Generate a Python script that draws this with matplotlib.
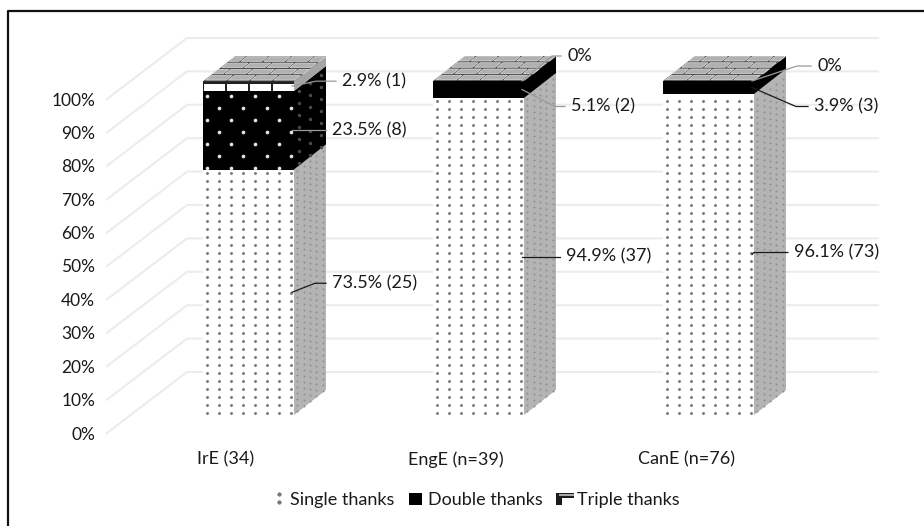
import matplotlib
matplotlib.use("Agg")
import matplotlib.pyplot as plt
from matplotlib.lines import Line2D
from matplotlib.patches import Polygon, Rectangle
from matplotlib.legend_handler import HandlerBase

plt.rcParams["font.family"] = ["Lato", "DejaVu Sans"]
plt.rcParams["font.size"] = 13

categories = ["IrE (34)", "EngE (n=39)", "CanE (n=76)"]
series_names = ["Single thanks", "Double thanks", "Triple thanks"]
single_pct = [73.5, 94.9, 96.1]
double_pct = [23.5, 5.1, 3.9]
triple_pct = [2.9, 0, 0]
single_n = [25, 37, 73]
double_n = [8, 2, 3]
triple_n = [1, 0, 0]
y_ticks = list(range(0, 101, 10))

W, H = 924, 526
PX_X = 230.0       # pixels per category
PX_Y = 3.34        # pixels per percentage point
FIRST_TICK = 226
fig = plt.figure(figsize=(W / 100, H / 100), dpi=100, facecolor="white")
ax_left, ax_right, ax_top, ax_bottom = 107, 878, 99, 433
ax = fig.add_axes([ax_left / W, 1 - ax_bottom / H, (ax_right - ax_left) / W, (ax_bottom - ax_top) / H])
ax.set_xlim((ax_left - FIRST_TICK) / PX_X, (ax_right - FIRST_TICK) / PX_X)
ax.set_ylim(0, 100)
for s in ax.spines.values():
    s.set_visible(False)
ax.set_facecolor("none")
ax.set_yticks(y_ticks, [f"{v}%" for v in y_ticks])
ax.set_xticks(range(len(categories)), categories)
ax.tick_params(axis="both", length=0, colors="#1a1a1a")
ax.tick_params(axis="y", pad=8.6, labelsize=12.5)
ax.tick_params(axis="x", pad=13, labelsize=13)


def ux(px):
    return px / PX_X


def uy(px):
    return px / PX_Y


# Perspective offsets of the chart box
WALL_DX, WALL_DY = ux(80), uy(61)
BAR_SHIFT = ux(22.5)      # bars stand mid-depth, to the right of their tick
BAR_HALF = ux(45.5)
BAR_DX, BAR_DY = ux(32), uy(25)
FLOOR = uy(18)
RIGHT_END = ax.get_xlim()[1]


def add_poly(points, **kw):
    kw.setdefault("linewidth", 0)
    p = Polygon(points, closed=True, clip_on=False, **kw)
    ax.add_patch(p)
    return p


# Floor and wall gridlines
x0 = ax.get_xlim()[0]
for v in y_ticks:
    ax.plot([x0, x0 + WALL_DX, RIGHT_END], [v, v + WALL_DY, v + WALL_DY],
            color="#ececec", lw=1.5, clip_on=False, zorder=1, solid_joinstyle="round")


def front_dots(xl, xr, yb, yt, sx, sy, stagger, color, size):
    xs, ys = [], []
    row = 0
    y = yb + uy(2)
    while y < yt - uy(2):
        x = xl + ux(4) + (ux(sx / 2) if stagger and row % 2 else 0)
        while x < xr - ux(1):
            xs.append(x)
            ys.append(y)
            x += ux(sx)
        y += uy(sy)
        row += 1
    ax.scatter(xs, ys, s=size, c=color, linewidths=0, clip_on=False, zorder=4)


def side_dots(xr, yb, yt, sx, sy, color, size):
    xs, ys = [], []
    n = int(round(ux(32) / ux(sx)))
    for i in range(n):
        frac = (i + 0.5) / n
        y = yb + uy(2)
        while y < yt - uy(2):
            xs.append(xr + frac * BAR_DX)
            ys.append(y + frac * BAR_DY)
            y += uy(sy)
    ax.scatter(xs, ys, s=size, c=color, linewidths=0, clip_on=False, zorder=4)


def bricks_top(xl, xr, top):
    # Brick courses laid across the receding top face
    def proj(u, v):
        return xl + (xr - xl) * u + BAR_DX * v, top + BAR_DY * v

    add_poly([proj(0, 0), proj(1, 0), proj(1, 1), proj(0, 1)], facecolor="#4a4a4a", zorder=5)
    rows = 4
    for r in range(rows):
        start = -0.125 if r % 2 else 0.0
        for c in range(5):
            u0 = max(start + c * 0.25 + 0.012, 0.0)
            u1 = min(start + (c + 1) * 0.25 - 0.012, 1.0)
            if u1 <= u0:
                continue
            v0, v1 = (r + 0.2) / rows, (r + 0.92) / rows
            add_poly([proj(u0, v0), proj(u1, v0), proj(u1, v1), proj(u0, v1)],
                     facecolor="#b0b0b0", edgecolor="#dedede", linewidth=0.5, zorder=6)


for i in range(len(categories)):
    cx = i + BAR_SHIFT
    xl, xr = cx - BAR_HALF, cx + BAR_HALF
    y0 = FLOOR
    y1 = y0 + single_pct[i]
    y2 = y1 + double_pct[i]
    y3 = y2 + triple_pct[i]

    # Single thanks
    ax.add_patch(Rectangle((xl, y0), xr - xl, y1 - y0, facecolor="white", lw=0, zorder=3, clip_on=False))
    add_poly([(xr, y0), (xr + BAR_DX, y0 + BAR_DY), (xr + BAR_DX, y1 + BAR_DY), (xr, y1)],
             facecolor="#b4b4b4", zorder=3)
    front_dots(xl, xr, y0, y1, 12, 8, False, "#7a7a7a", 4.5)
    side_dots(xr, y0, y1, 6, 6, "#8e8e8e", 2.0)

    # Double thanks
    ax.add_patch(Rectangle((xl, y1), xr - xl, y2 - y1, facecolor="black", lw=0, zorder=3, clip_on=False))
    add_poly([(xr, y1), (xr + BAR_DX, y1 + BAR_DY), (xr + BAR_DX, y2 + BAR_DY), (xr, y2)],
             facecolor="black", zorder=3)
    if double_pct[i] > 10:
        front_dots(xl, xr, y1, y2, 24, 12, True, "#e4e4e4", 7)
        side_dots(xr, y1, y2, 12, 12, "#4a4a4a", 6)

    # Triple thanks
    if triple_pct[i] > 0:
        ax.add_patch(Rectangle((xl, y2), xr - xl, y3 - y2, facecolor="#222222", lw=0, zorder=3, clip_on=False))
        for c in range(4):
            ax.add_patch(Rectangle((xl + ux(1 + 23 * c), y2), ux(21), uy(7.5),
                                   facecolor="white", lw=0, zorder=4, clip_on=False))
        add_poly([(xr, y2), (xr + BAR_DX, y2 + BAR_DY), (xr + BAR_DX, y3 + BAR_DY), (xr, y3)],
                 facecolor="#a4a4a4", zorder=4)
    bricks_top(xl, xr, y3)

# Value labels: leader geometry in pixels, relative to the anchor at the bar's front edge
GREY, DARK = "#9a9a9a", "#1a1a1a"
labels = []
for i in range(len(categories)):
    xr = i + BAR_SHIFT + BAR_HALF
    y1 = FLOOR + single_pct[i]
    y2 = y1 + double_pct[i]
    y3 = y2 + triple_pct[i]
    labels.append((xr, (FLOOR + y1) / 2, single_pct[i], single_n[i]))
    labels.append((xr, (y1 + y2) / 2, double_pct[i], double_n[i]))
    labels.append((xr, (y2 + y3) / 2, triple_pct[i], triple_n[i]))

leaders = [
    ((21, 9), (32, 9), DARK),
    ((32, 0), (32, 0), GREY),
    ((22, 5), (42, 5), GREY),
    ((0, 0), (36, 0), DARK),
    ((31, -17), (41, -17), GREY),
    ((28, 25), (37, 25), GREY),
    ((0, 2), (34, 2), DARK),
    ((42, -19), (54, -19), DARK),
    ((43, 15), (57, 15), GREY),
]
for (ax_x, ax_y, pct, n), (elbow, end, col) in zip(labels, leaders):
    ex, ey = ax_x + ux(elbow[0]), ax_y + uy(elbow[1])
    tx, ty = ax_x + ux(end[0]), ax_y + uy(end[1])
    ax.plot([ax_x - ux(2), ex, tx], [ax_y, ey, ty], color=col, lw=0.9, clip_on=False, zorder=8)
    text = f"{pct}% ({n})" if pct > 0 else "0%"
    ax.text(tx + ux(6), ty, text, ha="left", va="center", color="#1a1a1a", fontsize=13, zorder=9)


# Legend keys
class SingleKey(HandlerBase):
    def create_artists(self, legend, orig, xd, yd, w, h, fs, trans):
        return [Line2D([w * 0.62, w * 0.62], [h * y, h * y], marker="o", ms=1.8, color="#777777",
                       ls="none", transform=trans) for y in (0.25, 0.85)]


class DoubleKey(HandlerBase):
    def create_artists(self, legend, orig, xd, yd, w, h, fs, trans):
        return [Rectangle((w * 0.15, 0), w * 0.7, h * 0.95, facecolor="black", lw=0, transform=trans)]


class TripleKey(HandlerBase):
    def create_artists(self, legend, orig, xd, yd, w, h, fs, trans):
        return [
            Rectangle((0, 0), w, h * 0.95, facecolor="#1c1c1c", lw=0, transform=trans),
            Rectangle((w * 0.35, 0), w * 0.65, h * 0.55, facecolor="white", lw=0, transform=trans),
            Rectangle((w * 0.2, h * 0.72), w * 0.8, h * 0.15, facecolor="#a8a8a8", lw=0, transform=trans),
        ]


h_single, h_double, h_triple = Line2D([], []), Rectangle((0, 0), 1, 1), Line2D([0], [0], lw=2)
fig.legend([h_single, h_double, h_triple], series_names,
           handler_map={h_single: SingleKey(), h_double: DoubleKey(), h_triple: TripleKey()},
           ncol=3, frameon=False, fontsize=13, labelcolor="#1a1a1a",
           loc="center", bbox_to_anchor=(474 / W, 1 - 500 / H),
           handlelength=1.0, handleheight=0.7, handletextpad=0.2, columnspacing=0.69, borderpad=0)

# Outer frame along the top and left edges
fig.add_artist(Line2D([8 / W, 8 / W, 1], [0, 1 - 11 / H, 1 - 11 / H], color="#111111", lw=1.6,
                      transform=fig.transFigure))

fig.savefig("out.png", dpi=100)
